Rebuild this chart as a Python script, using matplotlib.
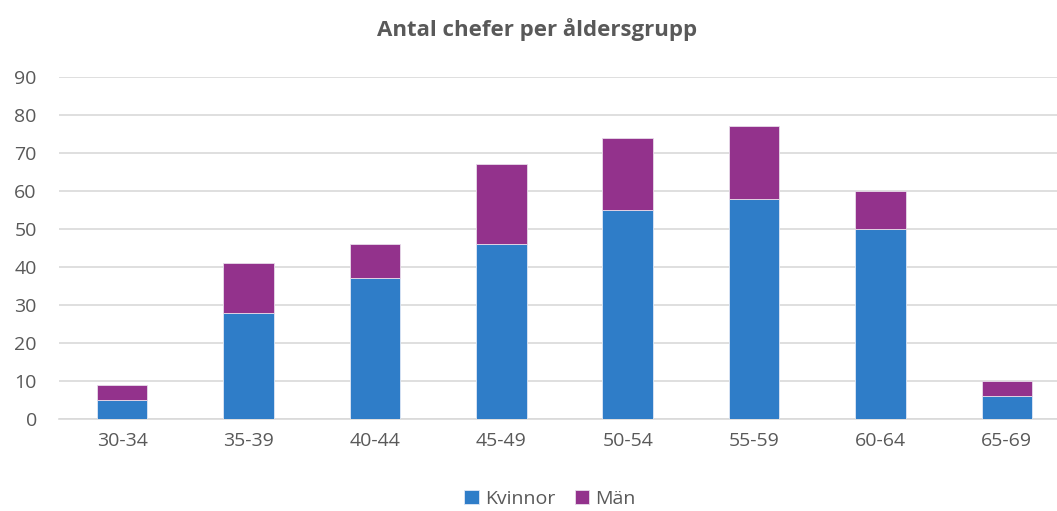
import numpy as np
import matplotlib.pyplot as plt

plt.rcParams['font.family'] = ['Open Sans', 'DejaVu Sans']

groups = ['30-34', '35-39', '40-44', '45-49', '50-54', '55-59', '60-64', '65-69']
kvinnor = [5, 28, 37, 46, 55, 58, 50, 6]
man = [4, 13, 9, 21, 19, 19, 10, 4]

blue = '#2F7DC8'
purple = '#93328C'
grey = '#595959'

fig = plt.figure(figsize=(10.57, 5.11), dpi=100)
# plot area runs slightly past the right edge, like the original
ax = fig.add_axes([59 / 1057, 92 / 511, 1011 / 1057, 342 / 511])

x = np.arange(len(groups))
width = 0.40
ax.bar(x, kvinnor, width, color=blue, label='Kvinnor', zorder=3,
       edgecolor='#dfe8f5', linewidth=0.6)
ax.bar(x, man, width, bottom=kvinnor, color=purple, label='Män', zorder=3,
       edgecolor='#e8dcea', linewidth=0.6)

ax.set_xlim(-0.5, len(groups) - 0.5)
ax.set_ylim(0, 90)
ax.set_yticks(range(0, 91, 10))
ax.set_xticks(x)
ax.set_xticklabels(groups)
ax.tick_params(axis='both', length=0, labelsize=14, colors=grey)
ax.tick_params(axis='x', pad=9)
ax.tick_params(axis='y', pad=16)
ax.grid(axis='y', color='#d9d9d9', linewidth=1.2, zorder=0)
for s in ['top', 'right', 'left']:
    ax.spines[s].set_visible(False)
ax.spines['bottom'].set_color('#d9d9d9')
ax.spines['bottom'].set_linewidth(1.2)

fig.text(537 / 1057, 1 - 30 / 511, 'Antal chefer per åldersgrupp', fontsize=16,
         fontweight='bold', color=grey, ha='center', va='center')

fig.legend(loc='center', bbox_to_anchor=(550 / 1057, 1 - 499 / 511), ncol=2,
           frameon=False, fontsize=14, labelcolor=grey, handlelength=0.75,
           handleheight=0.75, handletextpad=0.3, columnspacing=1.0,
           borderpad=0)

fig.savefig('out.png', dpi=100)
